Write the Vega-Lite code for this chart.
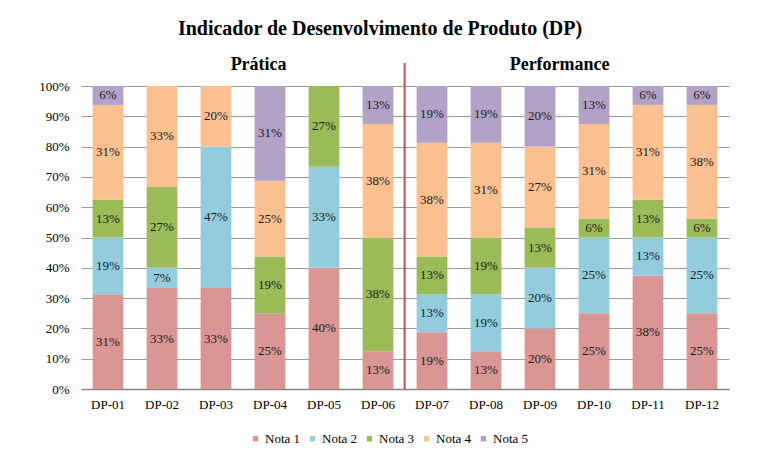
{
  "$schema": "https://vega.github.io/schema/vega-lite/v6.json",
  "autosize": {"type": "none"},
  "padding": {"left": 81, "top": 86, "right": 29, "bottom": 65},
  "width": 648,
  "height": 303,
  "background": "white",
  "title": {
    "text": "Indicador de Desenvolvimento de Produto (DP)",
    "font": "Times New Roman, Liberation Serif, serif",
    "fontSize": 20,
    "fontWeight": "bold",
    "color": "#000000",
    "anchor": "middle",
    "dx": -25,
    "offset": 17
  },
  "config": {
    "view": {"stroke": null},
    "font": "Times New Roman, Liberation Serif, serif"
  },
  "resolve": {"axis": {"y": "independent"}},
  "data": {
    "values": [
      {"DP": "DP-01", "Nota": "Nota 1", "v": 0.3125},
      {"DP": "DP-01", "Nota": "Nota 2", "v": 0.1875},
      {"DP": "DP-01", "Nota": "Nota 3", "v": 0.125},
      {"DP": "DP-01", "Nota": "Nota 4", "v": 0.3125},
      {"DP": "DP-01", "Nota": "Nota 5", "v": 0.0625},
      {"DP": "DP-02", "Nota": "Nota 1", "v": 0.33333},
      {"DP": "DP-02", "Nota": "Nota 2", "v": 0.06667},
      {"DP": "DP-02", "Nota": "Nota 3", "v": 0.26667},
      {"DP": "DP-02", "Nota": "Nota 4", "v": 0.33333},
      {"DP": "DP-03", "Nota": "Nota 1", "v": 0.33333},
      {"DP": "DP-03", "Nota": "Nota 2", "v": 0.46667},
      {"DP": "DP-03", "Nota": "Nota 4", "v": 0.2},
      {"DP": "DP-04", "Nota": "Nota 1", "v": 0.25},
      {"DP": "DP-04", "Nota": "Nota 3", "v": 0.1875},
      {"DP": "DP-04", "Nota": "Nota 4", "v": 0.25},
      {"DP": "DP-04", "Nota": "Nota 5", "v": 0.3125},
      {"DP": "DP-05", "Nota": "Nota 1", "v": 0.4},
      {"DP": "DP-05", "Nota": "Nota 2", "v": 0.33333},
      {"DP": "DP-05", "Nota": "Nota 3", "v": 0.26667},
      {"DP": "DP-06", "Nota": "Nota 1", "v": 0.125},
      {"DP": "DP-06", "Nota": "Nota 3", "v": 0.375},
      {"DP": "DP-06", "Nota": "Nota 4", "v": 0.375},
      {"DP": "DP-06", "Nota": "Nota 5", "v": 0.125},
      {"DP": "DP-07", "Nota": "Nota 1", "v": 0.1875},
      {"DP": "DP-07", "Nota": "Nota 2", "v": 0.125},
      {"DP": "DP-07", "Nota": "Nota 3", "v": 0.125},
      {"DP": "DP-07", "Nota": "Nota 4", "v": 0.375},
      {"DP": "DP-07", "Nota": "Nota 5", "v": 0.1875},
      {"DP": "DP-08", "Nota": "Nota 1", "v": 0.125},
      {"DP": "DP-08", "Nota": "Nota 2", "v": 0.1875},
      {"DP": "DP-08", "Nota": "Nota 3", "v": 0.1875},
      {"DP": "DP-08", "Nota": "Nota 4", "v": 0.3125},
      {"DP": "DP-08", "Nota": "Nota 5", "v": 0.1875},
      {"DP": "DP-09", "Nota": "Nota 1", "v": 0.2},
      {"DP": "DP-09", "Nota": "Nota 2", "v": 0.2},
      {"DP": "DP-09", "Nota": "Nota 3", "v": 0.13333},
      {"DP": "DP-09", "Nota": "Nota 4", "v": 0.26667},
      {"DP": "DP-09", "Nota": "Nota 5", "v": 0.2},
      {"DP": "DP-10", "Nota": "Nota 1", "v": 0.25},
      {"DP": "DP-10", "Nota": "Nota 2", "v": 0.25},
      {"DP": "DP-10", "Nota": "Nota 3", "v": 0.0625},
      {"DP": "DP-10", "Nota": "Nota 4", "v": 0.3125},
      {"DP": "DP-10", "Nota": "Nota 5", "v": 0.125},
      {"DP": "DP-11", "Nota": "Nota 1", "v": 0.375},
      {"DP": "DP-11", "Nota": "Nota 2", "v": 0.125},
      {"DP": "DP-11", "Nota": "Nota 3", "v": 0.125},
      {"DP": "DP-11", "Nota": "Nota 4", "v": 0.3125},
      {"DP": "DP-11", "Nota": "Nota 5", "v": 0.0625},
      {"DP": "DP-12", "Nota": "Nota 1", "v": 0.25},
      {"DP": "DP-12", "Nota": "Nota 2", "v": 0.25},
      {"DP": "DP-12", "Nota": "Nota 3", "v": 0.0625},
      {"DP": "DP-12", "Nota": "Nota 4", "v": 0.375},
      {"DP": "DP-12", "Nota": "Nota 5", "v": 0.0625}
    ]
  },
  "encoding": {
    "x": {
      "field": "DP",
      "type": "nominal",
      "scale": {"paddingInner": 0.43, "paddingOuter": 0.215},
      "axis": {
        "title": null,
        "labelAngle": 0,
        "labelFont": "Times New Roman, Liberation Serif, serif",
        "labelFontSize": 13,
        "labelColor": "#000000",
        "labelPadding": 9,
        "ticks": false,
        "domainColor": "#868686",
        "domainWidth": 1.5
      }
    }
  },
  "layer": [
    {
      "transform": [
        {"stack": "v", "groupby": ["DP"], "sort": [{"field": "Nota", "order": "ascending"}], "as": ["v0", "v1"]}
      ],
      "mark": {"type": "bar"},
      "encoding": {
        "y": {
          "field": "v0",
          "type": "quantitative",
          "scale": {"domain": [0, 1], "nice": false},
          "axis": {
            "title": null,
            "format": ".0%",
            "values": [0, 0.1, 0.2, 0.3, 0.4, 0.5, 0.6, 0.7, 0.8, 0.9, 1],
            "labelOverlap": false,
            "labelSeparation": 0,
            "labelFont": "Times New Roman, Liberation Serif, serif",
            "labelFontSize": 13,
            "labelColor": "#000000",
            "labelPadding": 12,
            "ticks": false,
            "domain": false,
            "grid": true,
            "gridColor": "#9a9a9a",
            "gridWidth": 1
          }
        },
        "y2": {"field": "v1"},
        "color": {
          "field": "Nota",
          "type": "nominal",
          "scale": {
            "domain": ["Nota 1", "Nota 2", "Nota 3", "Nota 4", "Nota 5"],
            "range": ["#d99694", "#93cddd", "#9bbb59", "#fac090", "#b3a2c7"]
          },
          "legend": {
            "title": null,
            "orient": "none",
            "direction": "horizontal",
            "legendX": 168,
            "legendY": 346,
            "symbolType": "square",
            "symbolSize": 28,
            "symbolStrokeWidth": 0,
            "labelFont": "Times New Roman, Liberation Serif, serif",
            "labelFontSize": 13,
            "labelColor": "#000000",
            "labelOffset": 3,
            "columnPadding": 5
          }
        }
      }
    },
    {
      "transform": [
        {"stack": "v", "groupby": ["DP"], "sort": [{"field": "Nota", "order": "ascending"}], "as": ["v0", "v1"]},
        {"calculate": "(datum.v0 + datum.v1) / 2", "as": "vmid"}
      ],
      "mark": {"type": "text", "font": "Times New Roman, Liberation Serif, serif", "fontSize": 13, "color": "#1a1a1a"},
      "encoding": {
        "y": {"field": "vmid", "type": "quantitative", "axis": null},
        "text": {"field": "v", "type": "quantitative", "format": ".0%"}
      }
    },
    {
      "data": {"values": [{}]},
      "mark": {"type": "rule", "color": "#c0504d", "strokeWidth": 2, "xOffset": -12},
      "encoding": {
        "x": {"datum": "DP-07", "bandPosition": 0},
        "y": {"datum": 0, "axis": null},
        "y2": {"datum": 1.076}
      }
    },
    {
      "data": {"values": [{}]},
      "mark": {"type": "text", "font": "Times New Roman, Liberation Serif, serif", "fontSize": 18, "fontWeight": "bold", "color": "#000000", "baseline": "alphabetic", "dx": 4},
      "encoding": {
        "x": {"datum": "DP-04", "bandPosition": 0},
        "y": {"datum": 1.053, "axis": null},
        "text": {"value": "Prática"}
      }
    },
    {
      "data": {"values": [{}]},
      "mark": {"type": "text", "font": "Times New Roman, Liberation Serif, serif", "fontSize": 18, "fontWeight": "bold", "color": "#000000", "baseline": "alphabetic", "dx": -19},
      "encoding": {
        "x": {"datum": "DP-10", "bandPosition": 0},
        "y": {"datum": 1.053, "axis": null},
        "text": {"value": "Performance"}
      }
    }
  ]
}
